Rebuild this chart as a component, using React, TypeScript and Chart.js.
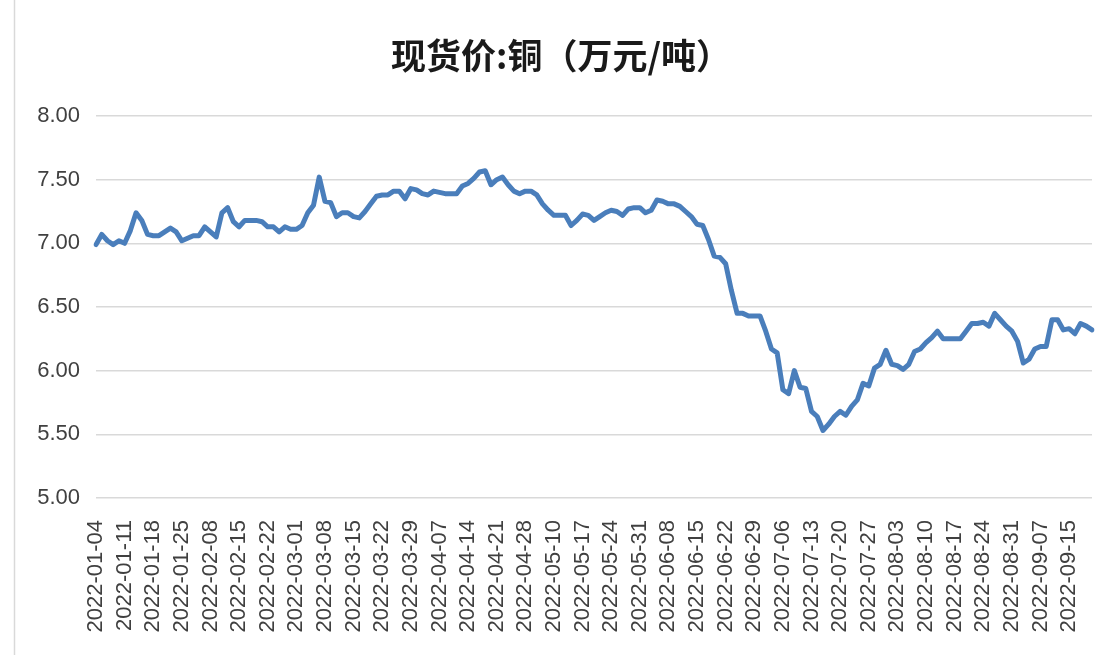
import React, { useEffect, useRef } from 'react';
import { Chart, registerables } from 'chart.js';

Chart.register(...registerables);

const TITLE = '现货价:铜（万元/吨）';
const YEAR = '2022';

// Chinese trading days (SHFE calendar), by month
const MONTHS = ['01', '02', '03', '04', '05', '06', '07', '08', '09'];
const TRADING_DAYS: number[][] = [
  [4, 5, 6, 7, 10, 11, 12, 13, 14, 17, 18, 19, 20, 21, 24, 25, 26, 27, 28],
  [7, 8, 9, 10, 11, 14, 15, 16, 17, 18, 21, 22, 23, 24, 25, 28],
  [1, 2, 3, 4, 7, 8, 9, 10, 11, 14, 15, 16, 17, 18, 21, 22, 23, 24, 25, 28, 29, 30, 31],
  [1, 6, 7, 8, 11, 12, 13, 14, 15, 18, 19, 20, 21, 22, 25, 26, 27, 28, 29],
  [5, 6, 9, 10, 11, 12, 13, 16, 17, 18, 19, 20, 23, 24, 25, 26, 27, 30, 31],
  [1, 2, 6, 7, 8, 9, 10, 13, 14, 15, 16, 17, 20, 21, 22, 23, 24, 27, 28, 29, 30],
  [1, 4, 5, 6, 7, 8, 11, 12, 13, 14, 15, 18, 19, 20, 21, 22, 25, 26, 27, 28, 29],
  [1, 2, 3, 4, 5, 8, 9, 10, 11, 12, 15, 16, 17, 18, 19, 22, 23, 24, 25, 26, 29, 30, 31],
  [1, 2, 5, 6, 7, 8, 9, 13, 14, 15, 16, 19, 20, 21],
];

const DATES: string[] = TRADING_DAYS.flatMap((days, m) =>
  days.map((d) => `${YEAR}-${MONTHS[m]}-${String(d).padStart(2, '0')}`)
);

// 现货价:铜 (万元/吨)
const PRICES = [
  6.99, 7.07, 7.02, 6.99, 7.02, 7.00, 7.10, 7.24, 7.18, 7.07,
  7.06, 7.06, 7.09, 7.12, 7.09, 7.02, 7.04, 7.06, 7.06, 7.13,
  7.09, 7.05, 7.24, 7.28, 7.17, 7.13, 7.18, 7.18, 7.18, 7.17,
  7.13, 7.13, 7.09, 7.13, 7.11, 7.11, 7.14, 7.24, 7.30, 7.52,
  7.33, 7.32, 7.21, 7.24, 7.24, 7.21, 7.20, 7.25, 7.31, 7.37,
  7.38, 7.38, 7.41, 7.41, 7.35, 7.43, 7.42, 7.39, 7.38, 7.41,
  7.40, 7.39, 7.39, 7.39, 7.45, 7.47, 7.51, 7.56, 7.57, 7.46,
  7.50, 7.52, 7.46, 7.41, 7.39, 7.41, 7.41, 7.38, 7.31, 7.26,
  7.22, 7.22, 7.22, 7.14, 7.18, 7.23, 7.22, 7.18, 7.21, 7.24,
  7.26, 7.25, 7.22, 7.27, 7.28, 7.28, 7.24, 7.26, 7.34, 7.33,
  7.31, 7.31, 7.29, 7.25, 7.21, 7.15, 7.14, 7.03, 6.90, 6.89,
  6.84, 6.63, 6.45, 6.45, 6.43, 6.43, 6.43, 6.31, 6.17, 6.14,
  5.85, 5.82, 6.00, 5.87, 5.86, 5.68, 5.64, 5.53, 5.58, 5.64,
  5.68, 5.65, 5.72, 5.77, 5.90, 5.88, 6.02, 6.05, 6.16, 6.05,
  6.04, 6.01, 6.05, 6.15, 6.17, 6.22, 6.26, 6.31, 6.25, 6.25,
  6.25, 6.25, 6.31, 6.37, 6.37, 6.38, 6.35, 6.45, 6.40, 6.35,
  6.31, 6.23, 6.06, 6.09, 6.17, 6.19, 6.19, 6.40, 6.40, 6.32,
  6.33, 6.29, 6.37, 6.35, 6.32,
];

const Y_MIN = 5;
const Y_MAX = 8;
const Y_STEP = 0.5;
const LABEL_EVERY = 5;

export default function App() {
  const ref = useRef<HTMLCanvasElement>(null);

  useEffect(() => {
    document.body.style.margin = '0';
    const framePlugin = {
      id: 'frame',
      beforeDraw(chart: any) {
        const ctx = chart.ctx;
        ctx.save();
        ctx.fillStyle = '#ffffff';
        ctx.fillRect(0, 0, chart.width, chart.height);
        ctx.strokeStyle = '#d9d9d9';
        ctx.lineWidth = 1.5;
        ctx.beginPath();
        ctx.moveTo(14.5, 0);
        ctx.lineTo(14.5, chart.height);
        ctx.stroke();
        ctx.restore();
      },
    };

    const tickFont = { family: '"Liberation Sans", Arial, sans-serif', size: 22 };

    const chart = new Chart(ref.current as HTMLCanvasElement, {
      type: 'line',
      data: {
        labels: DATES,
        datasets: [
          {
            data: PRICES,
            borderColor: '#4a7ebb',
            backgroundColor: '#4a7ebb',
            borderWidth: 5,
            pointRadius: 0,
            tension: 0,
            fill: false,
            borderJoinStyle: 'round',
            borderCapStyle: 'round',
          },
        ],
      },
      options: {
        responsive: false,
        animation: false,
        layout: { padding: { left: 30, right: 16, top: 0, bottom: 0 } },
        plugins: {
          legend: { display: false },
          tooltip: { enabled: false },
          title: {
            display: true,
            text: TITLE,
            color: '#1a1a1a',
            font: { family: '"Noto Sans CJK SC", sans-serif', size: 35, weight: 'bold' },
            padding: { top: 35, bottom: 39 },
          },
        },
        scales: {
          x: {
            offset: false,
            grid: { display: false },
            border: { display: false },
            ticks: {
              autoSkip: false,
              minRotation: 90,
              maxRotation: 90,
              padding: 14,
              color: '#404040',
              font: tickFont,
              callback: (_v: any, i: number) => (i % LABEL_EVERY === 0 ? DATES[i] : null),
            },
            afterFit: (s: any) => {
              s.height = 157;
              s.paddingLeft = 0;
              s.paddingRight = 0;
            },
          },
          y: {
            min: Y_MIN,
            max: Y_MAX,
            ticks: {
              stepSize: Y_STEP,
              padding: 16,
              color: '#404040',
              font: tickFont,
              callback: (v: any) => Number(v).toFixed(2),
            },
            grid: { color: '#d9d9d9', lineWidth: 1.5, drawTicks: false },
            border: { display: false },
            afterFit: (s: any) => {
              s.width = 66;
            },
          },
        },
      },
      plugins: [framePlugin],
    } as any);

    return () => chart.destroy();
  }, []);

  return (
    <canvas
      ref={ref}
      width={1108}
      height={655}
      style={{ position: 'absolute', left: 0, top: 0, display: 'block' }}
    />
  );
}
